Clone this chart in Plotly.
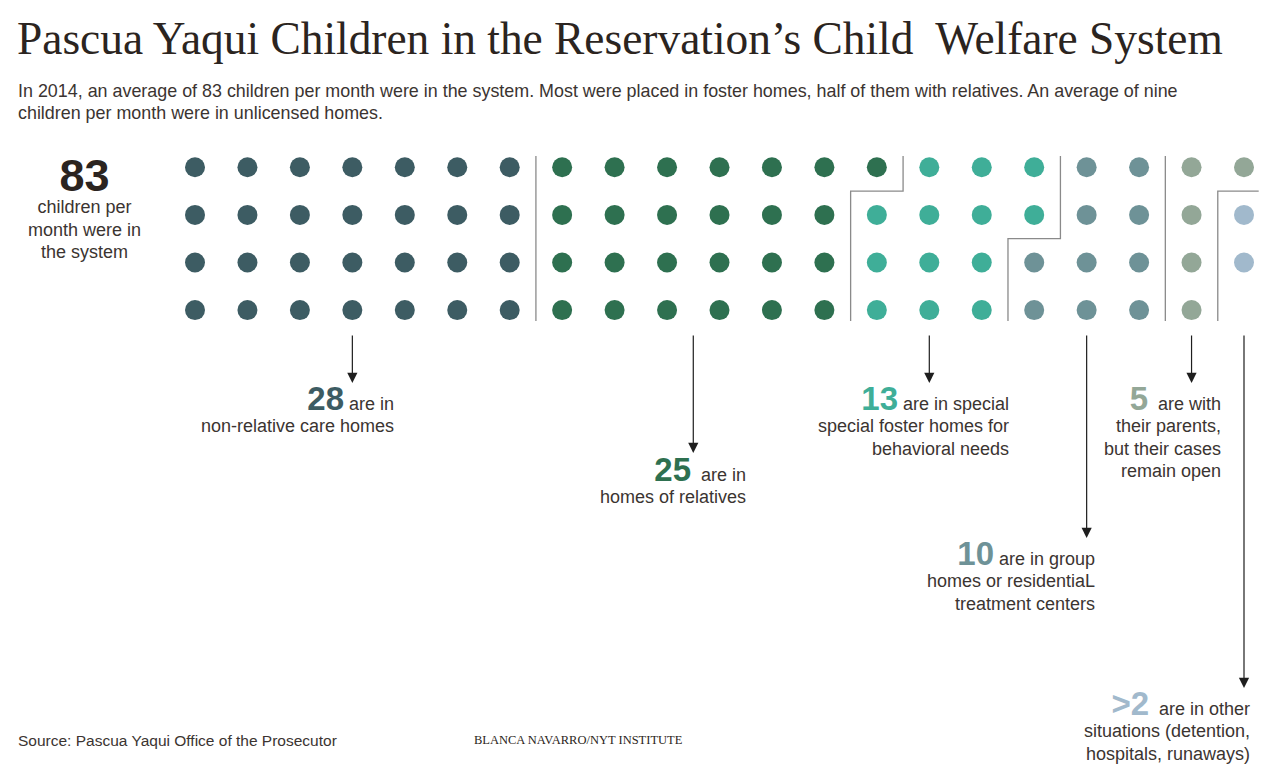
import plotly.graph_objects as go

# ---------------- data ----------------
categories = [
    "non-relative care homes",
    "homes of relatives",
    "special foster homes",
    "group homes / residential treatment",
    "with parents, cases open",
    "other situations",
]
counts = [28, 25, 13, 10, 5, 2]
number_labels = ["28", "25", "13", "10", "5", ">2"]
label_lines = [
    ["are in", "non-relative care homes"],
    ["are in", "homes of relatives"],
    ["are in special", "special foster homes for", "behavioral needs"],
    ["are in group", "homes or residentiaL", "treatment centers"],
    ["are with", "their parents,", "but their cases", "remain open"],
    ["are in other", "situations (detention,", "hospitals, runaways)"],
]
total_children = 83
total_lines = ["children per", "month were in", "the system"]
ROWS = 4

# ---------------- style / layout ----------------
colors = ["#3d5c63", "#2e7050", "#3fae98", "#6e9297", "#93a797", "#a1b9cc"]
TEXT = "#3b3431"
TITLE_C = "#2b2420"
W, H = 1280, 780
COL_PX, X0_PX = 52.45, 195.0   # pixel spacing of grid columns, first column centre
ROW_PX, Y0_PX = 47.6, 167.3    # pixel spacing of grid rows, first row centre
SANS = "Liberation Sans, Arial, sans-serif"
SERIF = "Liberation Serif, Times New Roman, serif"
BASE = 17.2   # base size -> line spacing 1.3*BASE
TXT = 18      # displayed size of label text

# per-label placement: arrow column, arrow tip y(px), text right edge(px), first baseline y(px), gap
placement = [
    (3, 383, 396, 409, " "),
    (9.5, 453, 748, 480, "  "),
    (14, 383, 1011, 409, " "),
    (17, 538, 1097, 564, " "),
    (19, 383, 1223, 409, "  "),
    (20, 688, 1252, 714, "  "),
]


def row_of(py):
    return (py - Y0_PX) / ROW_PX


def col_of(px):
    return (px - X0_PX) / COL_PX


def sp(t, size=TXT):
    return f"<span style='font-size:{size}px'>{t}</span>"


fig = go.Figure()

# dots, filled column by column
start = 0
bounds = []
for cat, n, c in zip(categories, counts, colors):
    idx = list(range(start, start + n))
    xs = [i // ROWS for i in idx]
    ys = [i % ROWS for i in idx]
    fig.add_trace(go.Scatter(
        x=xs, y=ys, mode="markers", name=cat,
        marker=dict(size=20, color=c, line=dict(width=0)),
        hoverinfo="name", showlegend=False))
    start += n
    bounds.append(start)

# separators between categories (step lines)
last_col = (sum(counts) - 1) // ROWS
top, bot = row_of(156), row_of(321)
for b in bounds[:-1]:
    col, row = b // ROWS, b % ROWS
    if row == 0:
        xs, ys = [col - 0.5, col - 0.5], [top, bot]
    elif col + 0.5 > last_col:
        xs = [last_col + 0.28, col - 0.5, col - 0.5]
        ys = [row - 0.5, row - 0.5, bot]
    else:
        xs = [col + 0.5, col + 0.5, col - 0.5, col - 0.5]
        ys = [top, row - 0.5, row - 0.5, bot]
    fig.add_trace(go.Scatter(x=xs, y=ys, mode="lines",
                             line=dict(color="#8a8a8a", width=1.3),
                             hoverinfo="skip", showlegend=False))

ann = []
# arrows + labels
for (acol, tip, right, base1, gap), num, lines, c in zip(placement, number_labels, label_lines, colors):
    ann.append(dict(x=acol, y=row_of(tip), xref="x", yref="y",
                    ax=acol, ay=row_of(334), axref="x", ayref="y",
                    text="", showarrow=True, arrowhead=2, arrowsize=1.7,
                    arrowwidth=1.2, arrowcolor="#1e1e1e", standoff=0))
    first = (f"<b><span style='font-size:33px;color:{c}'>{num}</span></b>"
             + sp(gap + lines[0]))
    text = "<br>".join([first] + [sp(l) for l in lines[1:]])
    ann.append(dict(x=col_of(right), y=row_of(base1 - 31), xref="x", yref="y",
                    text=text, showarrow=False, xanchor="right", yanchor="top",
                    align="right", font=dict(family=SANS, size=BASE, color=TEXT)))

# total block
tot = (f"<b><span style='font-size:45px;color:{TITLE_C}'>{total_children}</span></b><br>"
       + "<br>".join(sp(l) for l in total_lines))
ann.append(dict(x=84 / W, y=1 - 148 / H, xref="paper", yref="paper",
                text=tot, showarrow=False, xanchor="center", yanchor="top",
                align="center", font=dict(family=SANS, size=BASE, color=TEXT)))

# title, subtitle, footer
ann.append(dict(x=15 / W, y=1 - 39 / H, xref="paper", yref="paper",
                text="Pascua Yaqui Children in the Reservation’s Child  Welfare System",
                showarrow=False, xanchor="left", yanchor="middle",
                font=dict(family=SERIF, size=45.4, color=TITLE_C)))
sub = ["In 2014, an average of 83 children per month were in the system. Most were placed in foster homes, half of them with relatives. An average of nine",
       "children per month were in unlicensed homes."]
ann.append(dict(x=16 / W, y=1 - 102 / H, xref="paper", yref="paper",
                text="<br>".join(sp(l, 17.9) for l in sub),
                showarrow=False, xanchor="left", yanchor="middle", align="left",
                font=dict(family=SANS, size=BASE, color=TEXT)))
ann.append(dict(x=16 / W, y=1 - 740 / H, xref="paper", yref="paper",
                text="Source: Pascua Yaqui Office of the Prosecutor",
                showarrow=False, xanchor="left", yanchor="middle",
                font=dict(family=SANS, size=15.5, color=TEXT)))
ann.append(dict(x=472 / W, y=1 - 740 / H, xref="paper", yref="paper",
                text="BLANCA NAVARRO/NYT INSTITUTE",
                showarrow=False, xanchor="left", yanchor="middle",
                font=dict(family=SERIF, size=12.5, color=TITLE_C)))

fig.update_layout(
    width=W, height=H, margin=dict(l=0, r=0, t=0, b=0),
    paper_bgcolor="white", plot_bgcolor="white",
    xaxis=dict(range=[col_of(0), col_of(W)], visible=False, fixedrange=True),
    yaxis=dict(range=[row_of(H), row_of(0)], visible=False, fixedrange=True),
    annotations=ann, showlegend=False,
)

fig.write_html("out.html")
